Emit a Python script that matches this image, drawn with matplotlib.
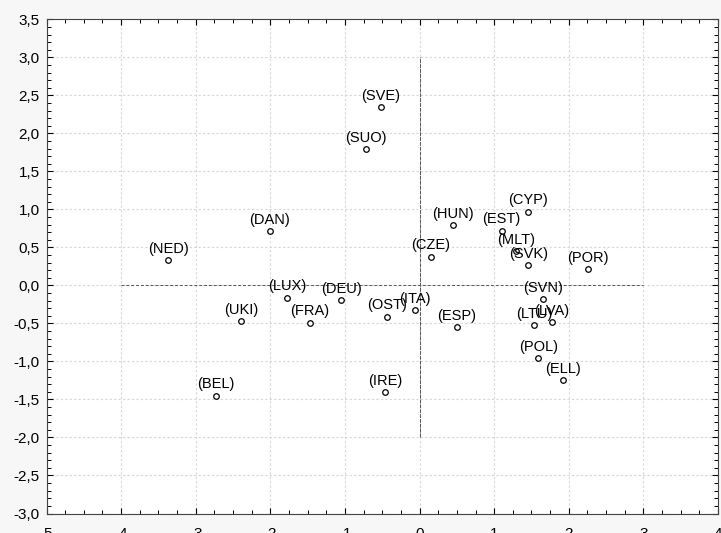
import numpy as np
import matplotlib
matplotlib.use('Agg')
from matplotlib import pyplot as plt
from matplotlib.ticker import FuncFormatter, MultipleLocator

# 국가 코드와 좌표
countries = ['SVE', 'SUO', 'HUN', 'CYP', 'EST', 'MLT', 'SVK', 'POR', 'CZE', 'DAN',
             'NED', 'LUX', 'UKI', 'BEL', 'DEU', 'FRA', 'OST', 'ITA', 'ESP', 'IRE',
             'SVN', 'LTU', 'LVA', 'POL', 'ELL']
x_vals = [-0.52, -0.72, 0.45, 1.45, 1.10, 1.29, 1.46, 2.26, 0.15, -2.01,
          -3.37, -1.77, -2.39, -2.73, -1.05, -1.47, -0.44, -0.06, 0.50, -0.46,
          1.66, 1.54, 1.77, 1.59, 1.92]
y_vals = [2.35, 1.79, 0.79, 0.97, 0.72, 0.45, 0.27, 0.21, 0.38, 0.71,
          0.33, -0.16, -0.47, -1.45, -0.19, -0.49, -0.41, -0.33, -0.55, -1.40,
          -0.18, -0.52, -0.48, -0.96, -1.24]

plt.rcParams['font.family'] = ['Liberation Sans', 'DejaVu Sans']

fig = plt.figure(figsize=(7.21, 5.33), dpi=100)
fig.patch.set_facecolor('#f7f7f7')
ax = fig.add_axes([46.5/721, 1 - 513.5/533, (718 - 46.5)/721, (513.5 - 19.3)/533])
ax.set_facecolor('white')

ax.set_xlim(-5, 4)
ax.set_ylim(-3.0, 3.5)

ax.xaxis.set_major_locator(MultipleLocator(1))
ax.xaxis.set_minor_locator(MultipleLocator(0.25))
ax.yaxis.set_major_locator(MultipleLocator(0.5))
ax.yaxis.set_minor_locator(MultipleLocator(0.1))
ax.xaxis.set_major_formatter(FuncFormatter(lambda v, p: f"{v:.0f}"))
ax.yaxis.set_major_formatter(FuncFormatter(lambda v, p: f"{v:.1f}".replace('.', ',')))

ax.grid(True, which='major', color='#d6d6d6', linestyle=(0, (2, 2)), linewidth=0.8)
ax.set_axisbelow(True)

ax.tick_params(which='both', direction='in', top=True, right=True, labelsize=11, colors='black')
ax.tick_params(which='major', length=4, width=0.8)
ax.tick_params(which='minor', length=3, width=0.7)
ax.tick_params(axis='x', pad=10)
ax.tick_params(axis='y', pad=5)
for s in ax.spines.values():
    s.set_color('#444444')
    s.set_linewidth(0.8)

# 원점 기준선
ax.plot([-4, 3], [0, 0], color='#555555', linestyle=(0, (3, 2)), linewidth=0.7, zorder=1)
ax.plot([0, 0], [-2, 3], color='#555555', linestyle=(0, (4, 1)), linewidth=0.7, zorder=1)

ax.plot(x_vals, y_vals, linestyle='none', marker='o', markersize=4,
        markerfacecolor='white', markeredgecolor='black', markeredgewidth=0.9, zorder=3)

for name, x, y in zip(countries, x_vals, y_vals):
    ax.annotate(f"({name})", (x, y), xytext=(0, 3), textcoords='offset points',
                ha='center', va='bottom', fontsize=10.5, zorder=4)

fig.savefig('out.png', dpi=100, facecolor=fig.get_facecolor())
